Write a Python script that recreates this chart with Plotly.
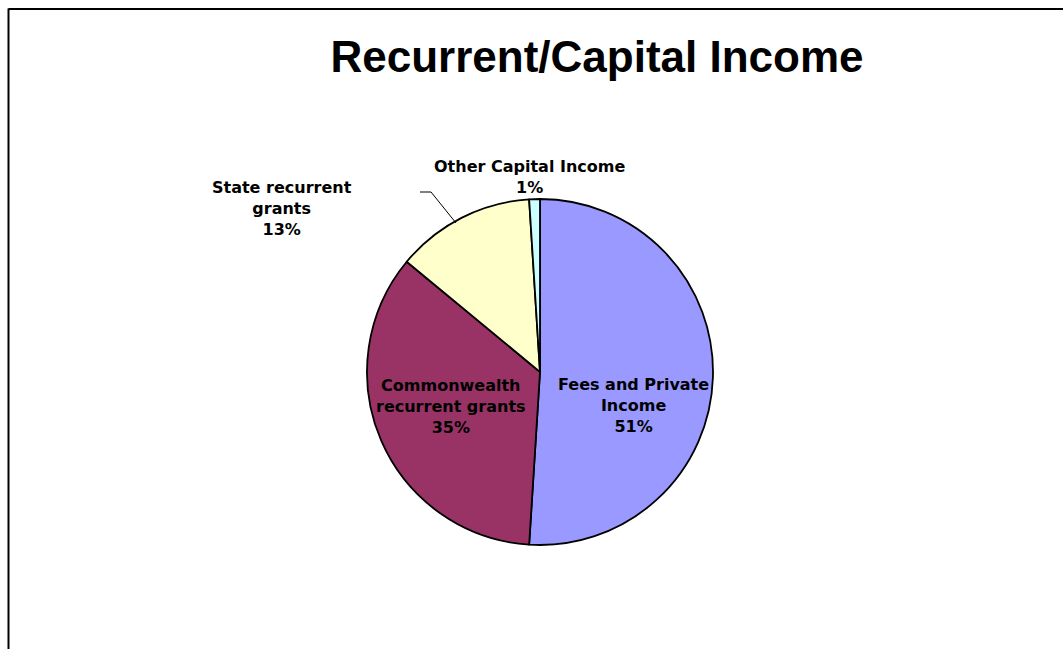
import plotly.graph_objects as go

# Income sources (clockwise from 12 o'clock)
categories = ["Fees and Private Income", "Commonwealth recurrent grants",
              "State recurrent grants", "Other Capital Income"]
label_lines = [["Fees and Private", "Income"],
               ["Commonwealth", "recurrent grants"],
               ["State recurrent", "grants"],
               ["Other Capital Income"]]
shares = [51, 35, 13, 1]
colors = ["#9999FF", "#993366", "#FFFFCC", "#CCFFFF"]

W, H = 1063, 649
cx, cy, r = 540, 372, 173  # pie centre and radius in pixels (from top-left)

fig = go.Figure(go.Pie(
    labels=categories,
    values=shares,
    sort=False,
    direction="clockwise",
    rotation=0,
    marker=dict(colors=colors, line=dict(color="black", width=1.8)),
    textinfo="none",
    hoverinfo="label+percent",
    showlegend=False,
    domain=dict(x=[(cx - r) / W, (cx + r) / W],
                y=[(H - cy - r) / H, (H - cy + r) / H]),
))

# label centres (pixels from top-left)
label_pos = [(633, 405), (451, 406), (282, 208), (529, 177)]
annotations = []
for lines, val, (px, py) in zip(label_lines, shares, label_pos):
    annotations.append(dict(
        text="<br>".join(lines + [f"{val}%"]),
        x=px / W, y=1 - py / H, xref="paper", yref="paper",
        xanchor="center", yanchor="middle", showarrow=False,
        font=dict(family="DejaVu Sans", size=16, color="black", weight="bold"),
        align="center",
    ))

def px2paper(x, y):
    return x / W, 1 - y / H

# leader line for the state grants label
p0 = px2paper(420, 192)
p1 = px2paper(431, 192)
p2 = px2paper(456, 223)
shapes = [
    dict(type="path", xref="paper", yref="paper",
         path=f"M {p0[0]} {p0[1]} L {p1[0]} {p1[1]} L {p2[0]} {p2[1]}",
         line=dict(color="black", width=1)),
    # outer frame (left and top edges)
    dict(type="line", xref="paper", yref="paper",
         x0=8.5 / W, x1=8.5 / W, y0=0, y1=1 - 8.5 / H,
         line=dict(color="black", width=2)),
    dict(type="line", xref="paper", yref="paper",
         x0=8.5 / W, x1=1, y0=1 - 9 / H, y1=1 - 9 / H,
         line=dict(color="black", width=2)),
]

fig.update_layout(
    width=W, height=H,
    margin=dict(l=0, r=0, t=0, b=0),
    paper_bgcolor="white", plot_bgcolor="white",
    title=dict(text="Recurrent/Capital Income",
               x=597 / W, xanchor="center",
               y=1 - 57 / H, yanchor="middle",
               font=dict(family="Liberation Sans", size=44, color="black", weight="bold")),
    annotations=annotations,
    shapes=shapes,
)

fig.write_html("out.html")
